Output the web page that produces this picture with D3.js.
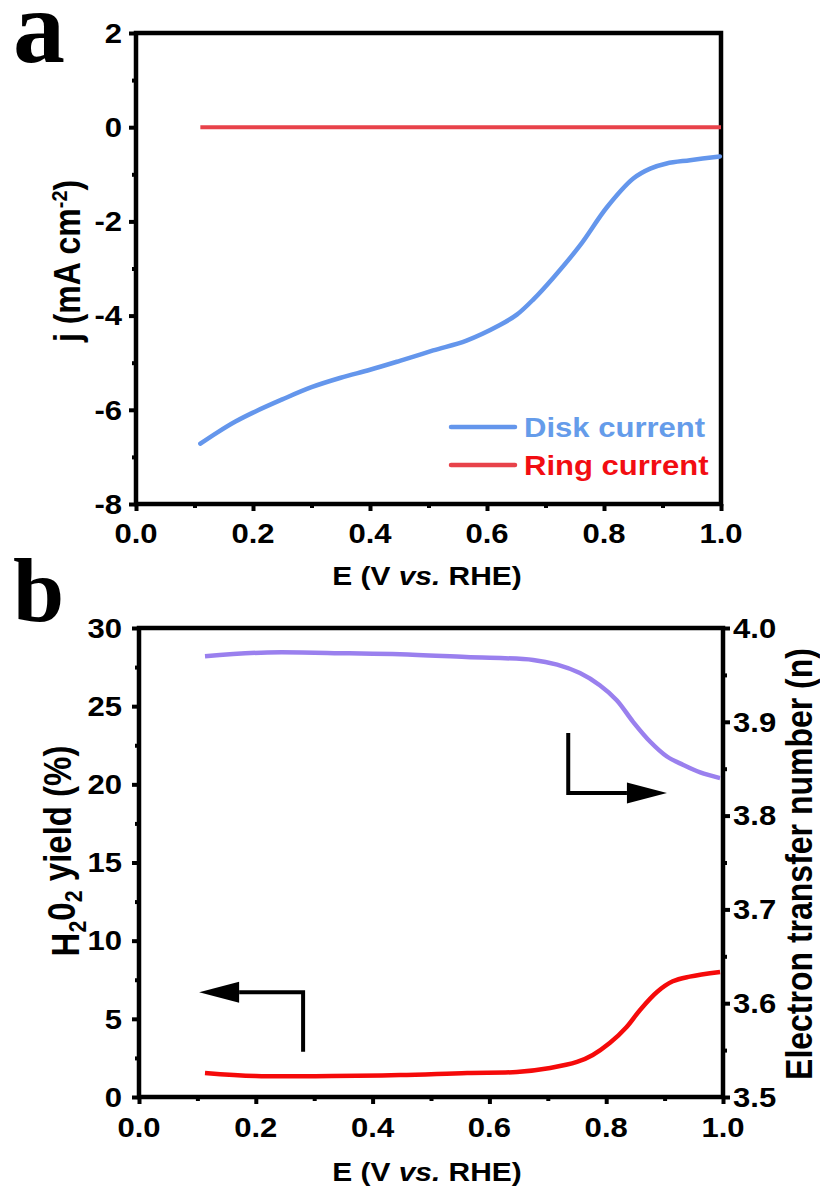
<!DOCTYPE html>
<html>
<head>
<meta charset="utf-8">
<script src="https://cdn.jsdelivr.net/npm/d3@7"></script>
<style>
  body { margin: 0; background: #fff; }
  svg { display: block; }
  text { font-family: "Liberation Sans", Arial, sans-serif; font-weight: bold; }
</style>
</head>
<body>
<svg id="fig" width="820" height="1194"></svg>
<script>
// ---- Panel a: RRDE polarisation (disk / ring current) ----
const diskE = [0.11, 0.138, 0.17, 0.2, 0.25, 0.3, 0.35, 0.4, 0.451, 0.508, 0.565, 0.622, 0.651, 0.679, 0.713, 0.759, 0.805, 0.85, 0.879, 0.907, 0.947, 0.998];
const diskJ = [-6.72, -6.49, -6.25, -6.06, -5.78, -5.52, -5.32, -5.15, -4.96, -4.74, -4.53, -4.20, -3.98, -3.66, -3.20, -2.51, -1.70, -1.09, -0.88, -0.77, -0.70, -0.62];
const ringE = [0.11, 0.3, 0.5, 0.7, 0.9, 1.0];
const ringJ = [0, 0, 0, 0, 0, 0];

// ---- Panel b: H2O2 yield and electron transfer number ----
const yieldE = [0.113, 0.2, 0.33, 0.447, 0.562, 0.647, 0.704, 0.75, 0.777, 0.806, 0.835, 0.858, 0.887, 0.914, 0.943, 0.995];
const yieldPct = [1.54, 1.34, 1.34, 1.40, 1.54, 1.60, 1.86, 2.24, 2.69, 3.45, 4.48, 5.57, 6.72, 7.40, 7.70, 8.0];
const nE = [0.113, 0.22, 0.36, 0.447, 0.56, 0.675, 0.716, 0.755, 0.789, 0.818, 0.846, 0.875, 0.904, 0.932, 0.961, 0.995];
const nVal = [3.970, 3.974, 3.973, 3.972, 3.969, 3.966, 3.961, 3.952, 3.939, 3.923, 3.900, 3.879, 3.863, 3.854, 3.846, 3.840];

// ---- Tick values ----
const xTicks = [0, 0.2, 0.4, 0.6, 0.8, 1.0];
const xMinor = [0.1, 0.3, 0.5, 0.7, 0.9];
const jTicks = [2, 0, -2, -4, -6, -8];
const jMinor = [1, -1, -3, -5, -7];
const yieldTicks = [0, 5, 10, 15, 20, 25, 30];
const yieldMinor = [2.5, 7.5, 12.5, 17.5, 22.5, 27.5];
const nTicks = [3.5, 3.6, 3.7, 3.8, 3.9, 4.0];
const nMinor = [3.55, 3.65, 3.75, 3.85, 3.95];

// ---- Direction arrows (data coordinates) ----
const arrowLeft = { x: 0.281, yFrom: 2.9, yTo: 6.7, tip: 0.103 };   // points to left axis
const arrowRight = { x: 0.735, yFrom: 3.888, yTo: 3.824, tip: 0.904 }; // points to right axis

const C = {
  disk: "#6496ec", diskText: "#659cea",
  ring: "#e8424a", ringText: "#f20d12",
  yield: "#f50a0a", n: "#9a80ee"
};
const SX = 1.15;          // horizontal glyph stretch
const TICK_FS = 27, TITLE_FS = 26, YTITLE_FS = 32, LEG_FS = 27;

const svg = d3.select("#fig");

function label(g, x, y, str, o = {}) {
  const sx = o.sx === undefined ? SX : o.sx;
  const t = g.append("text")
    .attr("transform", `translate(${x},${y}) scale(${sx},1)` + (o.rot ? ` rotate(${o.rot})` : ""))
    .attr("text-anchor", o.anchor || "middle")
    .attr("font-size", o.size || TICK_FS)
    .attr("fill", o.fill || "#000");
  if (o.dy) t.attr("dy", o.dy);
  if (o.family) t.style("font-family", o.family);
  if (typeof str === "string") t.text(str);
  else str(t);
  return t;
}

function ticks(g, axis, scale, vals, len) {
  g.call(axis(scale).tickValues(vals).tickSize(len).tickSizeOuter(0).tickFormat(""))
    .call(s => s.select(".domain").remove())
    .call(s => s.selectAll(".tick line").attr("stroke", "#000").attr("stroke-width", 4));
}

const smooth = d3.curveCatmullRom.alpha(0.5);
const SERIF = "'Liberation Serif', 'Times New Roman', serif";

// ================= Panel a =================
const ax = d3.scaleLinear().domain([0, 1]).range([136, 721]);
const ay = d3.scaleLinear().domain([-8, 2]).range([504, 33]);
const ga = svg.append("g");

ga.append("g").attr("transform", `translate(0,${ay(-8)})`).call(g => ticks(g, d3.axisBottom, ax, xTicks, 7));
ga.append("g").attr("transform", `translate(0,${ay(-8)})`).call(g => ticks(g, d3.axisBottom, ax, xMinor, 4));
ga.append("g").attr("transform", `translate(${ax(0)},0)`).call(g => ticks(g, d3.axisLeft, ay, jTicks, 7));
ga.append("g").attr("transform", `translate(${ax(0)},0)`).call(g => ticks(g, d3.axisLeft, ay, jMinor, 4));

ga.append("rect")
  .attr("x", ax(0)).attr("y", ay(2))
  .attr("width", ax(1) - ax(0)).attr("height", ay(-8) - ay(2))
  .attr("fill", "none").attr("stroke", "#000").attr("stroke-width", 4.5);

const lineA = (xs, ys) => d3.line().x((d, i) => ax(xs[i])).y(d => ay(d)).curve(smooth)(ys);
ga.append("path").attr("d", lineA(ringE, ringJ)).attr("fill", "none").attr("stroke", C.ring).attr("stroke-width", 4);
ga.append("path").attr("d", lineA(diskE, diskJ)).attr("fill", "none").attr("stroke", C.disk).attr("stroke-width", 4.5).attr("stroke-linecap", "round");

xTicks.forEach(v => label(ga, ax(v), 543, d3.format(".1f")(v)));
jTicks.forEach(v => label(ga, 122, ay(v), String(v), { anchor: "end", dy: "0.36em" }));

label(ga, 427, 585, t => {
  t.append("tspan").text("E (V ");
  t.append("tspan").attr("font-style", "italic").text("vs.");
  t.append("tspan").text(" RHE)");
}, { size: TITLE_FS });

label(ga, 80, 261, t => {
  t.append("tspan").text("j (mA cm");
  t.append("tspan").attr("dy", "-0.55em").attr("font-size", "0.62em").text("-2");
  t.append("tspan").attr("dy", "0.34em").text(")");
}, { size: YTITLE_FS, rot: -90 });

// legend
const legend = [
  { name: "Disk current", stroke: C.disk, fill: C.diskText, y: 427 },
  { name: "Ring current", stroke: C.ring, fill: C.ringText, y: 465 }
];
legend.forEach(d => {
  ga.append("line").attr("x1", 451).attr("x2", 515).attr("y1", d.y).attr("y2", d.y)
    .attr("stroke", d.stroke).attr("stroke-width", 4.5).attr("stroke-linecap", "round");
  label(ga, 524, d.y + 10, d.name, { anchor: "start", size: LEG_FS, fill: d.fill });
});

label(ga, 13, 62, "a", { anchor: "start", size: 104, family: SERIF, sx: 1 });

// ================= Panel b =================
const bx = d3.scaleLinear().domain([0, 1]).range([139, 723]);
const byL = d3.scaleLinear().domain([0, 30]).range([1097, 628]);
const byR = d3.scaleLinear().domain([3.5, 4.0]).range([1097, 628]);
const gb = svg.append("g");

gb.append("g").attr("transform", `translate(0,${byL(0)})`).call(g => ticks(g, d3.axisBottom, bx, xTicks, 7));
gb.append("g").attr("transform", `translate(0,${byL(0)})`).call(g => ticks(g, d3.axisBottom, bx, xMinor, 4));
gb.append("g").attr("transform", `translate(${bx(0)},0)`).call(g => ticks(g, d3.axisLeft, byL, yieldTicks, 7));
gb.append("g").attr("transform", `translate(${bx(0)},0)`).call(g => ticks(g, d3.axisLeft, byL, yieldMinor, 4));
gb.append("g").attr("transform", `translate(${bx(1)},0)`).call(g => ticks(g, d3.axisRight, byR, nTicks, 7));
gb.append("g").attr("transform", `translate(${bx(1)},0)`).call(g => ticks(g, d3.axisRight, byR, nMinor, 4));

gb.append("rect")
  .attr("x", bx(0)).attr("y", byL(30))
  .attr("width", bx(1) - bx(0)).attr("height", byL(0) - byL(30))
  .attr("fill", "none").attr("stroke", "#000").attr("stroke-width", 4.5);

gb.append("path")
  .attr("d", d3.line().x((d, i) => bx(nE[i])).y(d => byR(d)).curve(smooth)(nVal))
  .attr("fill", "none").attr("stroke", C.n).attr("stroke-width", 4.5);
gb.append("path")
  .attr("d", d3.line().x((d, i) => bx(yieldE[i])).y(d => byL(d)).curve(smooth)(yieldPct))
  .attr("fill", "none").attr("stroke", C.yield).attr("stroke-width", 4.5);

// arrows
function arrow(x0, y0, xc, yc, tipX, dir) {
  const head = 40, half = 10.5;
  gb.append("path")
    .attr("d", `M${x0},${y0} L${xc},${yc} L${tipX - dir * head},${yc}`)
    .attr("fill", "none").attr("stroke", "#000").attr("stroke-width", 4);
  gb.append("path")
    .attr("d", `M${tipX},${yc} L${tipX - dir * head},${yc - half} L${tipX - dir * head},${yc + half} Z`)
    .attr("fill", "#000");
}
arrow(bx(arrowLeft.x), byL(arrowLeft.yFrom), bx(arrowLeft.x), byL(arrowLeft.yTo), bx(arrowLeft.tip), -1);
arrow(bx(arrowRight.x), byR(arrowRight.yFrom), bx(arrowRight.x), byR(arrowRight.yTo), bx(arrowRight.tip), 1);

xTicks.forEach(v => label(gb, bx(v), 1137, d3.format(".1f")(v)));
yieldTicks.forEach(v => label(gb, 122, byL(v), String(v), { anchor: "end", dy: "0.36em" }));
nTicks.forEach(v => label(gb, 733, byR(v), d3.format(".1f")(v), { anchor: "start", dy: "0.36em" }));

label(gb, 427, 1181, t => {
  t.append("tspan").text("E (V ");
  t.append("tspan").attr("font-style", "italic").text("vs.");
  t.append("tspan").text(" RHE)");
}, { size: TITLE_FS });

label(gb, 79, 851, t => {
  t.append("tspan").text("H");
  t.append("tspan").attr("dy", "0.3em").attr("font-size", "0.65em").text("2");
  t.append("tspan").attr("dy", "-0.3em").text("0");
  t.append("tspan").attr("dy", "0.3em").attr("font-size", "0.65em").text("2");
  t.append("tspan").attr("dy", "-0.3em").text(" yield (%)");
}, { size: 33, rot: -90 });

label(gb, 812, 864, "Electron transfer number (n)", { size: YTITLE_FS, rot: -90 });

label(gb, 13, 621, "b", { anchor: "start", size: 92, family: SERIF, sx: 1 });
</script>
</body>
</html>
